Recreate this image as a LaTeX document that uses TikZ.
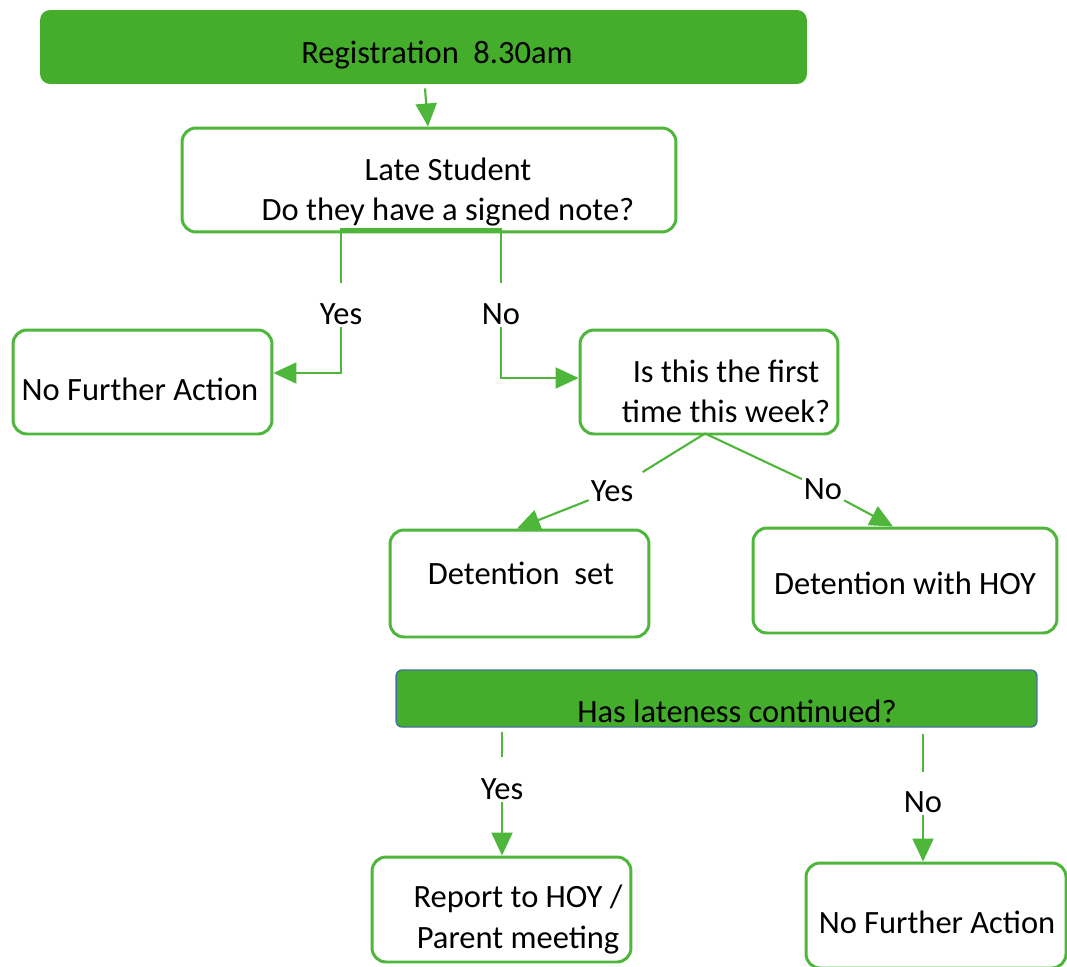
\documentclass[tikz,border=0pt]{standalone}
\usepackage{fontspec}
\setmainfont{Carlito}
\usepackage{xcolor}
\usetikzlibrary{arrows.meta}
\usetikzlibrary{calc}

\definecolor{flowgreen}{RGB}{68,173,44}
\definecolor{edgegreen}{RGB}{78,182,58}
\definecolor{steelblue}{RGB}{65,113,156}

\begin{document}
\begin{tikzpicture}[x=0.02cm, y=-0.02cm, >={Triangle[length=0.46cm,width=0.42cm]}, font=\fontsize{18.5}{22.8}\selectfont]
  \tikzstyle{box}=[draw=edgegreen, line width=1.7pt, fill=white, rounded corners=0.28cm, inner sep=0pt]
  \tikzstyle{head}=[fill=flowgreen, inner sep=0pt]
  \tikzstyle{txt}=[align=center, inner sep=0pt, text=black]
  \tikzstyle{answer}=[inner sep=1pt]
  \tikzstyle{flow}=[draw=edgegreen, line width=1.2pt]
  \useasboundingbox (0,0) rectangle (1067,966);

  % boxes
  \node[head, rounded corners=0.2cm, minimum width=15.34cm, minimum height=1.48cm] (reg) at (423.5,47) {};
  \node[box, minimum width=9.88cm, minimum height=2.08cm] (late) at (429,180) {};
  \node[box, minimum width=5.18cm, minimum height=2.08cm] (nfaA) at (142.5,382) {};
  \node[box, minimum width=5.16cm, minimum height=2.08cm] (first) at (709,382) {};
  \node[box, minimum width=5.18cm, minimum height=2.14cm] (det) at (519.5,583.5) {};
  \node[box, minimum width=6.08cm, minimum height=2.1cm] (dethoy) at (905,580.5) {};
  \node[head, draw=steelblue, line width=0.8pt, rounded corners=0.12cm, minimum width=12.82cm, minimum height=1.14cm] (cont) at (716.5,698.5) {};
  \node[box, minimum width=5.18cm, minimum height=2.1cm] (report) at (501.5,909.5) {};
  \node[box, minimum width=5.2cm, minimum height=2.1cm] (nfaB) at (936,915.5) {};

  % texts
  \node[txt] (reg-t) at ([shift={(13.5,8)}]reg.center) {Registration\ \ 8.30am};
  \node[txt] (late-t) at ([shift={(19,12)}]late.center) {Late Student\\Do they have a signed note?};
  \node[txt] (nfaA-t) at ([shift={(-2.5,7)}]nfaA.center) {No Further Action};
  \node[txt] (first-t) at ([shift={(17,9)}]first.center) {Is this the first\\time this week?};
  \node[txt] (det-t) at ([shift={(1.5,-10.5)}]det.center) {Detention\ \ set};
  \node[txt] (dethoy-t) at ([shift={(0,2.5)}]dethoy.center) {Detention with HOY};
  \node[txt] (cont-t) at ([shift={(20.5,12.5)}]cont.center) {Has lateness continued?};
  \node[txt] (report-t) at ([shift={(16.5,10)}]report.center) {Report to HOY /\\Parent meeting};
  \node[txt] (nfaB-t) at ([shift={(1,6.5)}]nfaB.center) {No Further Action};

  % answers
  \node[answer] (yesA) at (341,314) {Yes};
  \node[answer] (noA) at (501,314) {No};
  \node[answer] (yesB) at (612,491) {Yes};
  \node[answer] (noB) at (823,489) {No};
  \node[answer] (yesC) at (502,789) {Yes};
  \node[answer] (noC) at (923,802) {No};
  \coordinate (fork) at ([shift={(-4,-2)}]first.south);

  \draw[flow,->] ([shift={(1.5,4)}]reg.south) -- ([xshift=-0.02cm]late.north);
  \draw[flow, shorten <=0.36cm, shorten >=0.36cm] (yesA.north) |- ([yshift=0.08cm]late.south) -| (noA.north);
  \draw[flow,->] (yesA.south) |- ([yshift=0.18cm]nfaA.east);
  \draw[flow,->] (noA.south) |- ([yshift=0.08cm]first.west);
  \draw[flow, shorten >=0.24cm] (fork) -- (yesB);
  \draw[flow] (fork) -- (noB);
  \draw[flow,->] (yesB) -- ([xshift=-0.05cm]det.north);
  \draw[flow,->] (noB) -- ([xshift=-0.24cm]dethoy.north);
  \draw[flow, shorten <=0.08cm, shorten >=0.38cm] (yesC.north |- cont.south) -- (yesC.north);
  \draw[flow,->] (yesC) -- (yesC |- report.north);
  \draw[flow, shorten <=0.12cm, shorten >=0.34cm] (noC.north |- cont.south) -- (noC.north);
  \draw[flow,->] (noC) -- (noC |- nfaB.north);
\end{tikzpicture}
\end{document}
